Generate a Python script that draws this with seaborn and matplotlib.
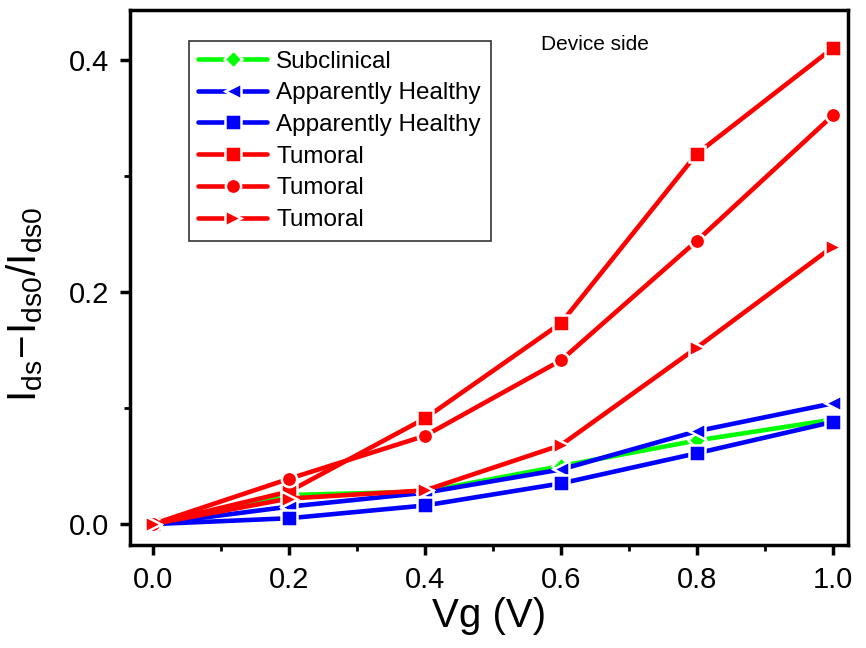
import numpy as np
import pandas as pd
import matplotlib
matplotlib.use("Agg")
import matplotlib.pyplot as plt
import seaborn as sns
from matplotlib.ticker import MultipleLocator, FormatStrFormatter

sns.set_style("ticks")
plt.rcParams['font.family'] = ['Liberation Sans', 'DejaVu Sans']
plt.rcParams['mathtext.fontset'] = 'custom'
plt.rcParams['mathtext.rm'] = 'Liberation Sans'
plt.rcParams['mathtext.it'] = 'Liberation Sans'
plt.rcParams['text.color'] = 'black'
plt.rcParams['axes.labelcolor'] = 'black'
plt.rcParams['xtick.color'] = 'black'
plt.rcParams['ytick.color'] = 'black'

# Data
vg = [0.0, 0.2, 0.4, 0.6, 0.8, 1.0]
subclinical = [0.0, 0.025, 0.028, 0.050, 0.072, 0.090]
healthy_tri = [0.0, 0.015, 0.027, 0.047, 0.080, 0.104]
healthy_sq = [0.0, 0.005, 0.016, 0.035, 0.061, 0.088]
tumoral_sq = [0.0, 0.028, 0.091, 0.173, 0.319, 0.410]
tumoral_circ = [0.0, 0.039, 0.076, 0.141, 0.244, 0.352]
tumoral_tri = [0.0, 0.022, 0.029, 0.068, 0.152, 0.239]

series = [
    ("Subclinical", subclinical, "#00ff00", "D"),
    ("Apparently Healthy", healthy_tri, "#0000ff", "<"),
    ("Apparently Healthy", healthy_sq, "#0000ff", "s"),
    ("Tumoral", tumoral_sq, "#ff0000", "s"),
    ("Tumoral", tumoral_circ, "#ff0000", "o"),
    ("Tumoral", tumoral_tri, "#ff0000", ">"),
]

fig = plt.figure(figsize=(8.66, 6.48), dpi=100)
ax = fig.add_axes([0.150, 0.159, 0.829, 0.826])

for label, vals, color, marker in series:
    df = pd.DataFrame({'Vg': vg, 'dI': vals})
    sns.lineplot(data=df, x='Vg', y='dI', ax=ax, color=color, marker=marker,
                 markersize=11 if marker != 'D' else 9, markeredgecolor='white',
                 markeredgewidth=1.8, markerfacecolor=color,
                 linewidth=3.3, label=label)

ax.set_xlim(-0.034, 1.022)
ax.set_ylim(-0.018, 0.443)
ax.xaxis.set_major_locator(MultipleLocator(0.2))
ax.xaxis.set_minor_locator(MultipleLocator(0.1))
ax.yaxis.set_major_locator(MultipleLocator(0.2))
ax.yaxis.set_minor_locator(MultipleLocator(0.1))
ax.xaxis.set_major_formatter(FormatStrFormatter('%.1f'))
ax.yaxis.set_major_formatter(FormatStrFormatter('%.1f'))
ax.tick_params(which='major', direction='out', length=7, width=2.5, labelsize=21, pad=8)
ax.tick_params(which='minor', direction='out', length=4, width=2)
for sp in ax.spines.values():
    sp.set_linewidth(2.5)
    sp.set_color('black')

ax.set_xlabel('Vg (V)', fontsize=29, labelpad=2)
ax.set_ylabel(r'$\mathregular{I_{ds}\!-\!I_{ds0}/I_{ds0}}$', fontsize=29, labelpad=2)
ax.yaxis.set_label_coords(-0.118, 0.45)

ax.text(0.65, 0.413, 'Device side', fontsize=15, ha='center', va='center')

leg = ax.legend(loc='upper left', bbox_to_anchor=(0.082, 0.942), fontsize=17.5,
                frameon=True, fancybox=False, edgecolor='#333333', framealpha=1,
                borderpad=0.4, labelspacing=0.4, handlelength=2.8, handletextpad=0.4,
                borderaxespad=0)
leg.get_frame().set_linewidth(1.2)

fig.savefig('out.png', dpi=100)
